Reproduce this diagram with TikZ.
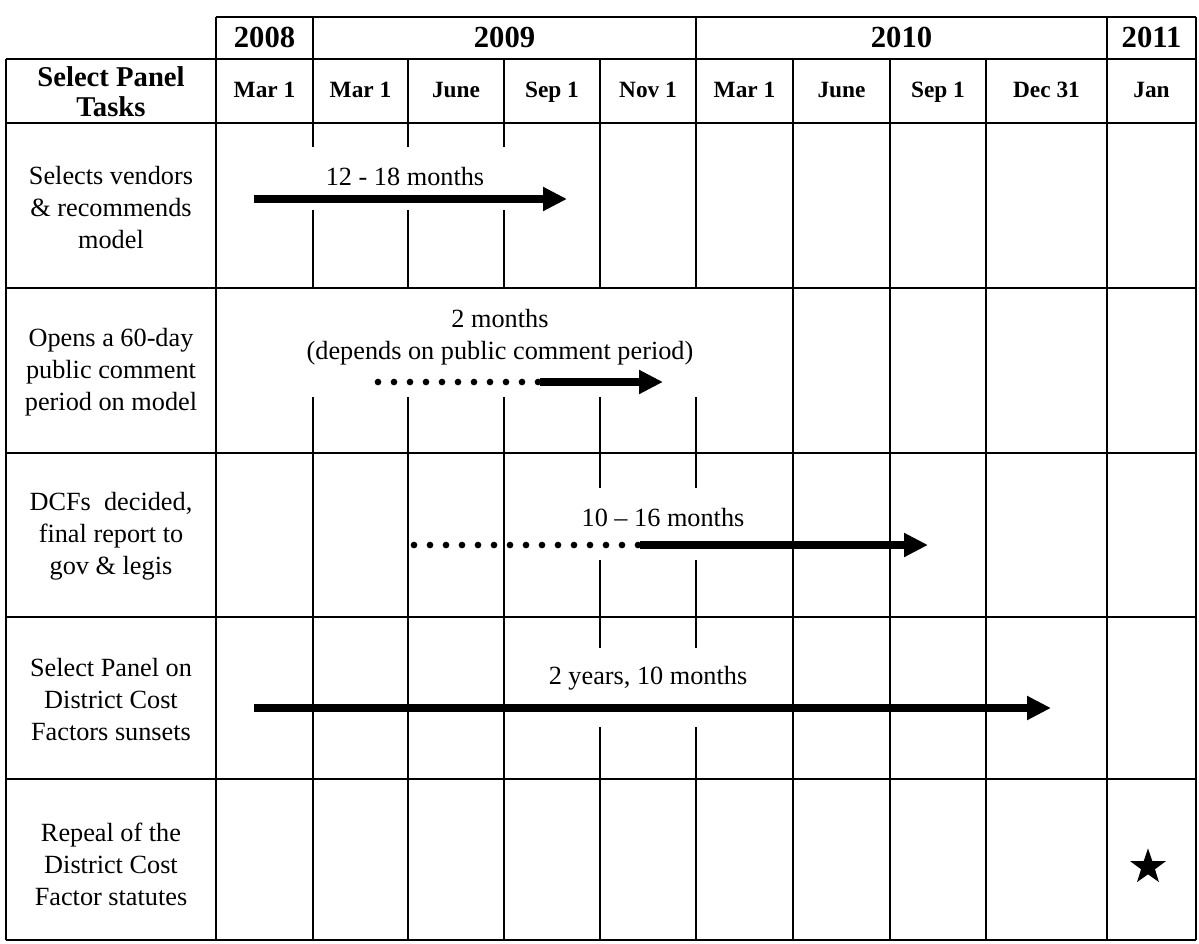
\documentclass[tikz,border=0pt]{standalone}
\usepackage{fontspec}
\setmainfont{Liberation Serif}
\usetikzlibrary{arrows.meta,shapes.geometric}
\newcommand\tfbody{\fontsize{19.7}{24}\selectfont}
\newcommand\tfyear{\fontsize{23}{26}\selectfont\bfseries}
\newcommand\tfdate{\fontsize{17.5}{20}\selectfont\bfseries}
\newcommand\tfhead{\fontsize{21.5}{22.5}\selectfont\bfseries}
\tikzset{
  gridline/.style={line width=1.4pt},
  bigarrow/.style={line width=6pt,-{Triangle[length=18pt,width=17pt]}},
  dotline/.style={line width=5pt,line cap=round,dash pattern=on 0pt off 12pt},
  bodytext/.style={font=\tfbody,align=center,inner sep=0pt},
  yeartext/.style={font=\tfyear,inner sep=0pt,anchor=base},
  datetext/.style={font=\tfdate,inner sep=0pt,anchor=base},
}
\begin{document}
\begin{tikzpicture}[x=0.75pt,y=-0.75pt]
\useasboundingbox (0,0) rectangle (1199,943);
% horizontal lines
\draw[gridline] (216,17) -- (1196,17);
\foreach \yy in {59,123,288,453,617,779,940}
  \draw[gridline] (6,\yy) -- (1196,\yy);
% vertical lines
\draw[gridline] (6,59) -- (6,940);
\foreach \xx in {216,1107,1196}
  \draw[gridline] (\xx,17) -- (\xx,940);
\foreach \xx in {793,890,986}
  \draw[gridline] (\xx,59) -- (\xx,940);
\draw[gridline] (313,17) -- (313,147) (313,210) -- (313,288) (313,397) -- (313,940);
\foreach \xx in {408,504}
  \draw[gridline] (\xx,59) -- (\xx,147) (\xx,210) -- (\xx,288) (\xx,397) -- (\xx,940);
\draw[gridline] (600,59) -- (600,288) (600,397) -- (600,488) (600,560) -- (600,648) (600,727) -- (600,940);
\draw[gridline] (696,17) -- (696,288) (696,397) -- (696,488) (696,560) -- (696,648) (696,727) -- (696,940);
% years
\node[yeartext] (y2008) at (264.5,47) {2008};
\node[yeartext] (y2009) at (504.5,47) {2009};
\node[yeartext] (y2010) at (901.5,47) {2010};
\node[yeartext] (y2011) at (1151.5,47) {2011};
% header
\node[font=\tfhead,align=center,inner sep=0pt] (head) at (111,92) {Select Panel\\Tasks};
\node[datetext] (d1) at (264.5,97) {Mar 1};
\node[datetext] (d2) at (360.5,97) {Mar 1};
\node[datetext] (d3) at (456,97) {June};
\node[datetext] (d4) at (552,97) {Sep 1};
\node[datetext] (d5) at (648,97) {Nov 1};
\node[datetext] (d6) at (744.5,97) {Mar 1};
\node[datetext] (d7) at (841.5,97) {June};
\node[datetext] (d8) at (938,97) {Sep 1};
\node[datetext] (d9) at (1046.5,97) {Dec 31};
\node[datetext] (d10) at (1151.5,97) {Jan};
% task labels
\node[bodytext] (t1) at (111,208) {Selects vendors\\\& recommends\\model};
\node[bodytext] (t2) at (111,372) {Opens a 60-day\\public comment\\period on model};
\node[bodytext] (t3) at (111,536) {DCFs\ \ decided,\\final report to\\gov \& legis};
\node[bodytext] (t4) at (111,700) {Select Panel on\\District Cost\\Factors sunsets};
\node[bodytext] (t5) at (111,864) {Repeal of the\\District Cost\\Factor statutes};
% row 1
\node[bodytext] (l1) at (405,177) {12 - 18 months};
\coordinate (a1s) at (254,199);
\coordinate (a1e) at (567,199);
\draw[bigarrow] (a1s) -- (a1e);
% row 2
\node[bodytext] (l2a) at (500,319) {2 months};
\node[bodytext] (l2b) at (500,353) {(depends on public comment period)};
\coordinate (a2s) at (378,382);
\coordinate (a2m) at (540,382);
\coordinate (a2e) at (663,382);
\draw[dotline] (a2s) -- (a2m);
\draw[bigarrow] (a2m) -- (a2e);
% row 3
\node[bodytext] (l3) at (663,518) {10 – 16 months};
\coordinate (a3s) at (414,545);
\coordinate (a3m) at (640,545);
\coordinate (a3e) at (928,545);
\draw[dotline] (a3s) -- (a3m);
\draw[bigarrow] (a3m) -- (a3e);
% row 4
\node[bodytext] (l4) at (648,678) {2 years, 10 months};
\coordinate (a4s) at (254,708);
\coordinate (a4e) at (1051,708);
\draw[bigarrow] (a4s) -- (a4e);
% row 5
\node[star,star points=5,star point ratio=2.55,fill=black,inner sep=0pt,minimum size=28pt] (star) at (1148,867) {};
\end{tikzpicture}
\end{document}
